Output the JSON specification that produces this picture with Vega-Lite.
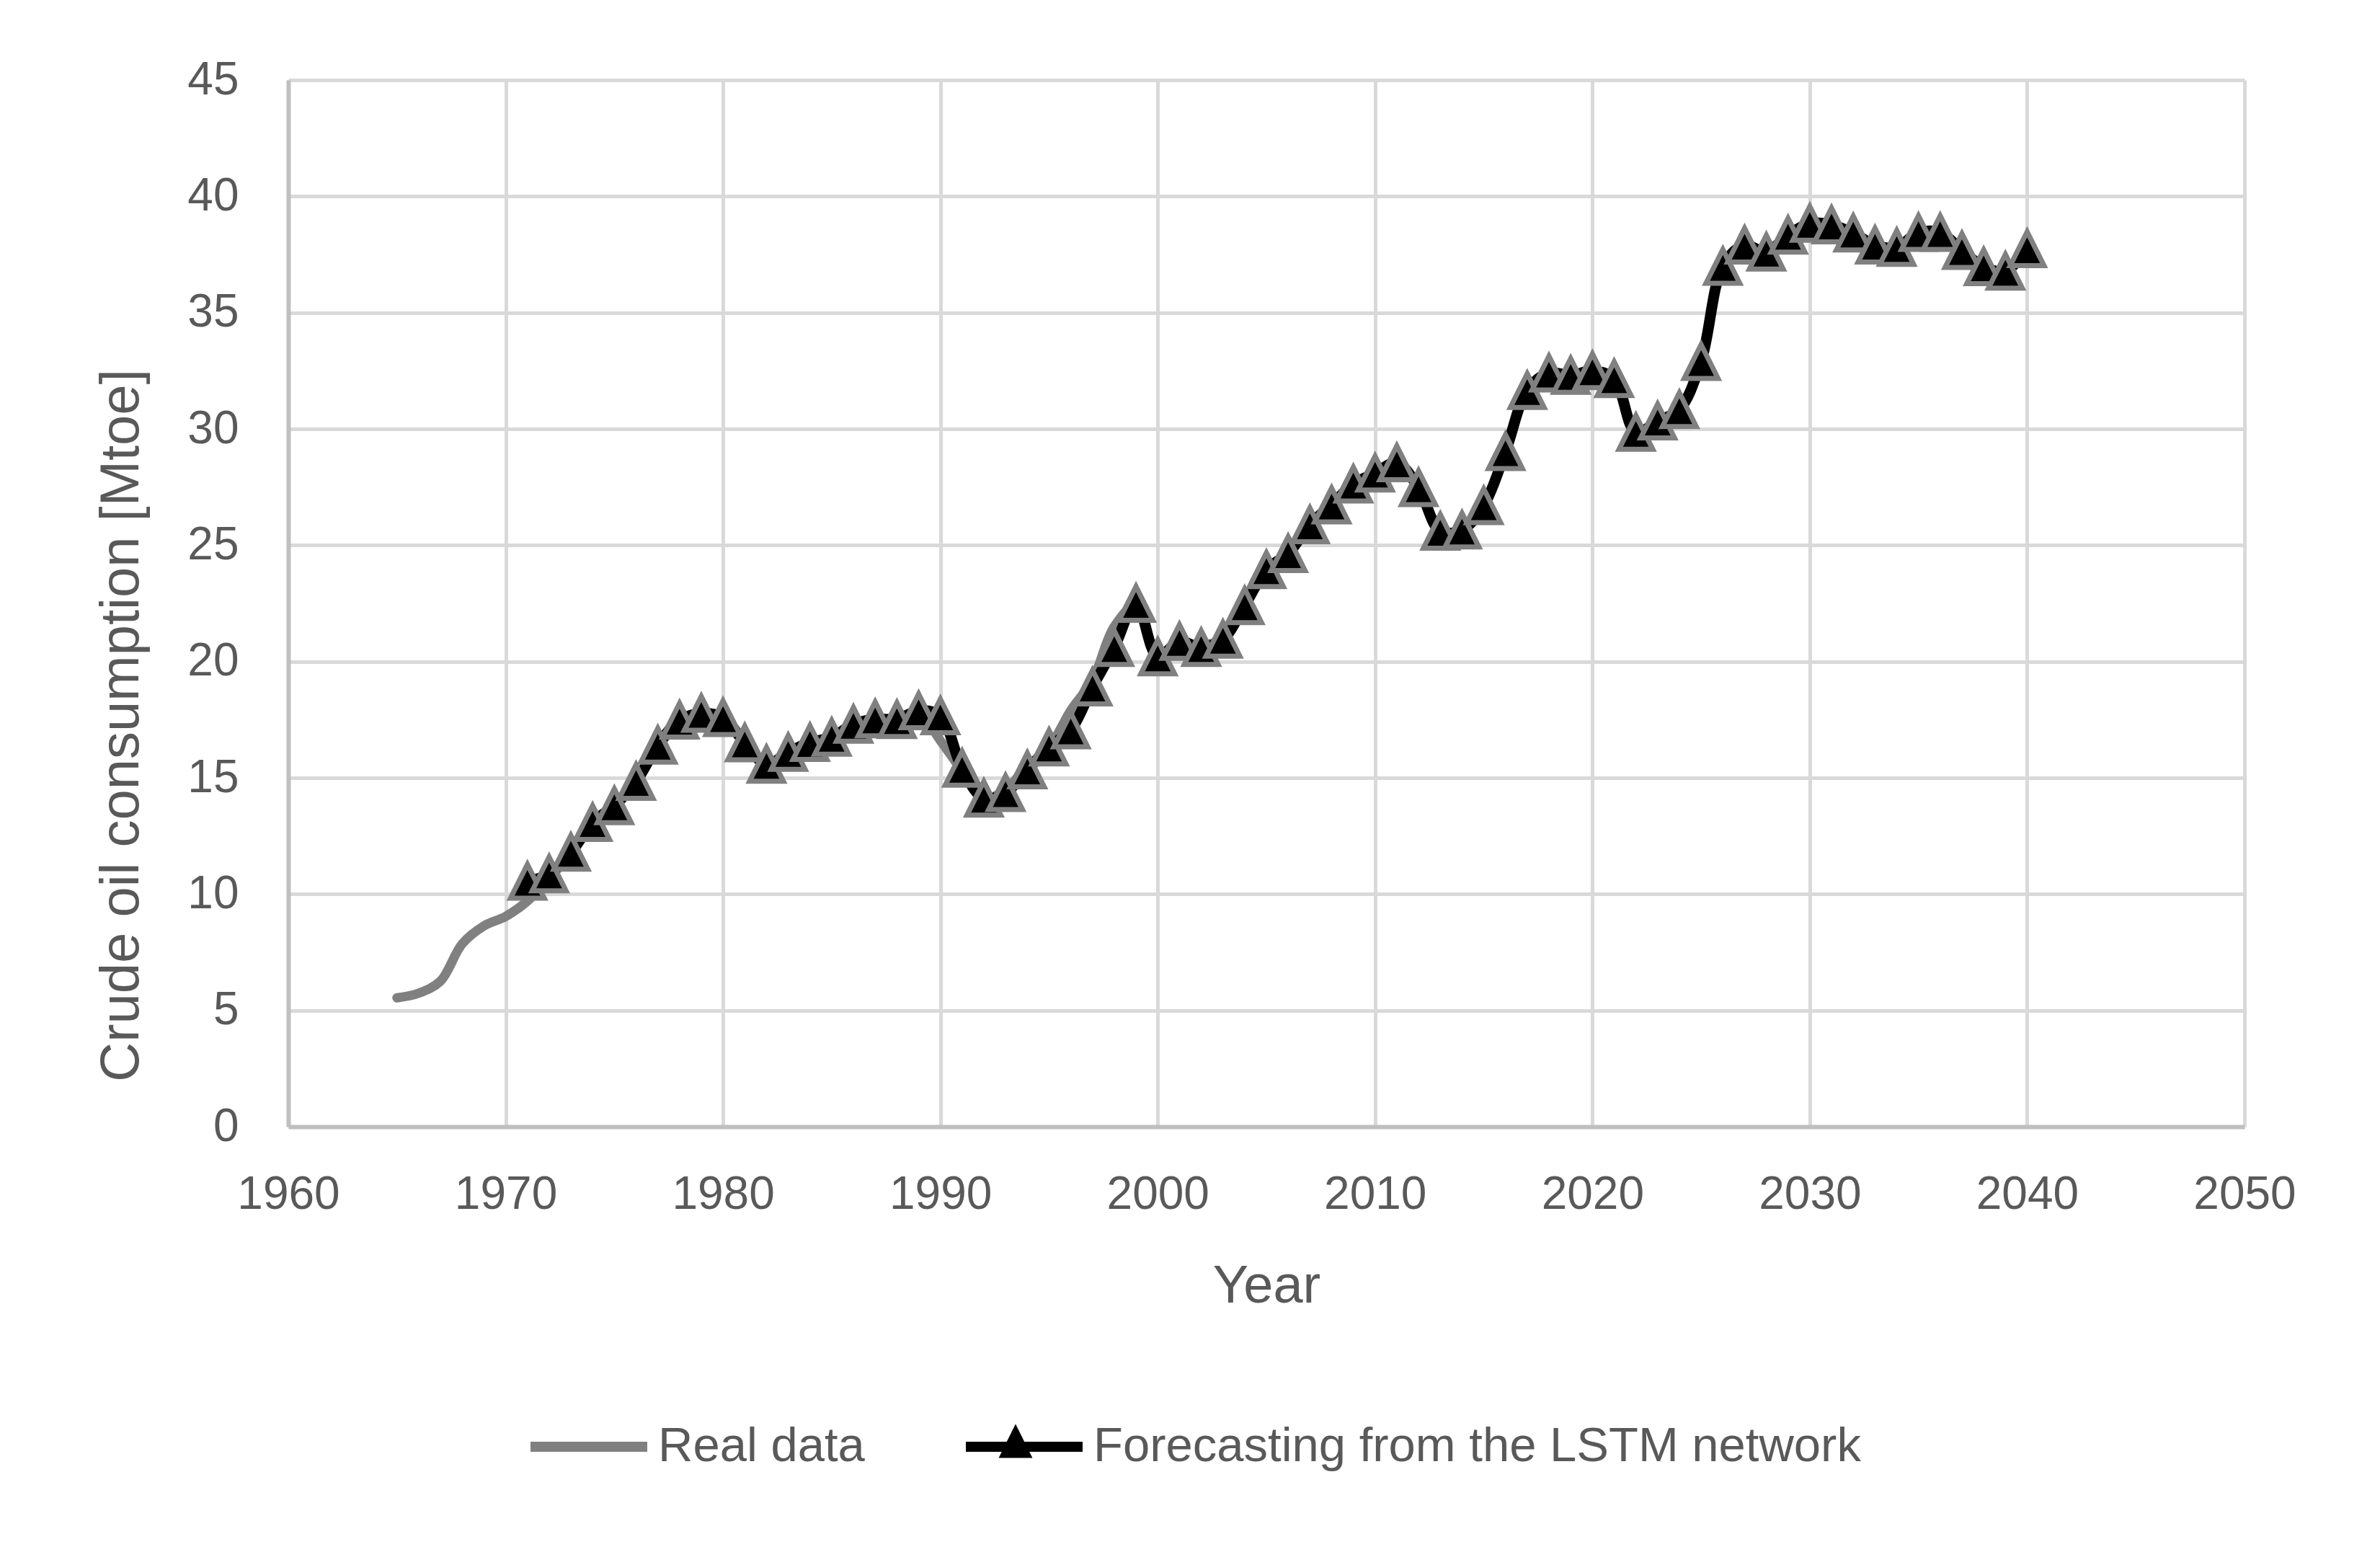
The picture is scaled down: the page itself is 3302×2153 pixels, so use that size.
{
  "$schema": "https://vega.github.io/schema/vega-lite/v6.json",
  "autosize": {"type": "none"},
  "width": 2714,
  "height": 1452,
  "padding": {"left": 400, "top": 111, "right": 188, "bottom": 590},
  "background": "#ffffff",
  "config": {
    "view": {"stroke": null},
    "font": "Liberation Sans",
    "axis": {
      "labelFont": "Liberation Sans",
      "titleFont": "Liberation Sans",
      "labelColor": "#595959",
      "titleColor": "#595959",
      "titleFontWeight": "normal",
      "gridColor": "#d9d9d9",
      "gridWidth": 5,
      "domainColor": "#bfbfbf",
      "domainWidth": 6,
      "ticks": false,
      "tickSize": 0,
      "labelFlush": false,
      "labelOverlap": false
    }
  },
  "data": {
    "values": [
      {"year": 1965, "value": 5.54, "series": "Real data"},
      {"year": 1966, "value": 5.74, "series": "Real data"},
      {"year": 1967, "value": 6.26, "series": "Real data"},
      {"year": 1968, "value": 7.86, "series": "Real data"},
      {"year": 1969, "value": 8.63, "series": "Real data"},
      {"year": 1970, "value": 9.04, "series": "Real data"},
      {"year": 1971, "value": 9.7, "series": "Real data"},
      {"year": 1972, "value": 10.7, "series": "Real data"},
      {"year": 1973, "value": 11.7, "series": "Real data"},
      {"year": 1974, "value": 13.0, "series": "Real data"},
      {"year": 1975, "value": 13.8, "series": "Real data"},
      {"year": 1976, "value": 14.8, "series": "Real data"},
      {"year": 1977, "value": 16.3, "series": "Real data"},
      {"year": 1978, "value": 17.4, "series": "Real data"},
      {"year": 1979, "value": 17.7, "series": "Real data"},
      {"year": 1980, "value": 17.5, "series": "Real data"},
      {"year": 1981, "value": 16.5, "series": "Real data"},
      {"year": 1982, "value": 15.6, "series": "Real data"},
      {"year": 1983, "value": 16.1, "series": "Real data"},
      {"year": 1984, "value": 16.5, "series": "Real data"},
      {"year": 1985, "value": 16.8, "series": "Real data"},
      {"year": 1986, "value": 17.3, "series": "Real data"},
      {"year": 1987, "value": 17.5, "series": "Real data"},
      {"year": 1988, "value": 17.6, "series": "Real data"},
      {"year": 1989, "value": 17.8, "series": "Real data"},
      {"year": 1990, "value": 16.6, "series": "Real data"},
      {"year": 1991, "value": 15.3, "series": "Real data"},
      {"year": 1992, "value": 14.1, "series": "Real data"},
      {"year": 1993, "value": 14.5, "series": "Real data"},
      {"year": 1994, "value": 15.5, "series": "Real data"},
      {"year": 1995, "value": 16.3, "series": "Real data"},
      {"year": 1996, "value": 17.9, "series": "Real data"},
      {"year": 1997, "value": 19.2, "series": "Real data"},
      {"year": 1998, "value": 21.5, "series": "Real data"},
      {"year": 1999, "value": 22.4, "series": "Real data"},
      {"year": 2000, "value": 20.3, "series": "Real data"},
      {"year": 2001, "value": 20.8, "series": "Real data"},
      {"year": 2002, "value": 20.7, "series": "Real data"},
      {"year": 2003, "value": 21.0, "series": "Real data"},
      {"year": 2004, "value": 22.5, "series": "Real data"},
      {"year": 2005, "value": 23.8, "series": "Real data"},
      {"year": 2006, "value": 24.8, "series": "Real data"},
      {"year": 2007, "value": 25.9, "series": "Real data"},
      {"year": 2008, "value": 26.8, "series": "Real data"},
      {"year": 2009, "value": 27.6, "series": "Real data"},
      {"year": 2010, "value": 28.1, "series": "Real data"},
      {"year": 2011, "value": 28.5, "series": "Real data"},
      {"year": 2012, "value": 27.4, "series": "Real data"},
      {"year": 2013, "value": 25.6, "series": "Real data"},
      {"year": 2014, "value": 25.7, "series": "Real data"},
      {"year": 2015, "value": 26.7, "series": "Real data"},
      {"year": 2016, "value": 29.0, "series": "Real data"},
      {"year": 2017, "value": 31.6, "series": "Real data"},
      {"year": 2018, "value": 32.4, "series": "Real data"},
      {"year": 2019, "value": 32.3, "series": "Real data"},
      {"year": 1971, "value": 10.55, "series": "Forecasting from the LSTM network"},
      {"year": 1972, "value": 10.87, "series": "Forecasting from the LSTM network"},
      {"year": 1973, "value": 11.8, "series": "Forecasting from the LSTM network"},
      {"year": 1974, "value": 13.08, "series": "Forecasting from the LSTM network"},
      {"year": 1975, "value": 13.8, "series": "Forecasting from the LSTM network"},
      {"year": 1976, "value": 14.84, "series": "Forecasting from the LSTM network"},
      {"year": 1977, "value": 16.4, "series": "Forecasting from the LSTM network"},
      {"year": 1978, "value": 17.48, "series": "Forecasting from the LSTM network"},
      {"year": 1979, "value": 17.77, "series": "Forecasting from the LSTM network"},
      {"year": 1980, "value": 17.59, "series": "Forecasting from the LSTM network"},
      {"year": 1981, "value": 16.5, "series": "Forecasting from the LSTM network"},
      {"year": 1982, "value": 15.58, "series": "Forecasting from the LSTM network"},
      {"year": 1983, "value": 16.09, "series": "Forecasting from the LSTM network"},
      {"year": 1984, "value": 16.52, "series": "Forecasting from the LSTM network"},
      {"year": 1985, "value": 16.74, "series": "Forecasting from the LSTM network"},
      {"year": 1986, "value": 17.3, "series": "Forecasting from the LSTM network"},
      {"year": 1987, "value": 17.53, "series": "Forecasting from the LSTM network"},
      {"year": 1988, "value": 17.5, "series": "Forecasting from the LSTM network"},
      {"year": 1989, "value": 17.88, "series": "Forecasting from the LSTM network"},
      {"year": 1990, "value": 17.66, "series": "Forecasting from the LSTM network"},
      {"year": 1991, "value": 15.41, "series": "Forecasting from the LSTM network"},
      {"year": 1992, "value": 14.12, "series": "Forecasting from the LSTM network"},
      {"year": 1993, "value": 14.36, "series": "Forecasting from the LSTM network"},
      {"year": 1994, "value": 15.34, "series": "Forecasting from the LSTM network"},
      {"year": 1995, "value": 16.32, "series": "Forecasting from the LSTM network"},
      {"year": 1996, "value": 17.06, "series": "Forecasting from the LSTM network"},
      {"year": 1997, "value": 18.9, "series": "Forecasting from the LSTM network"},
      {"year": 1998, "value": 20.6, "series": "Forecasting from the LSTM network"},
      {"year": 1999, "value": 22.5, "series": "Forecasting from the LSTM network"},
      {"year": 2000, "value": 20.2, "series": "Forecasting from the LSTM network"},
      {"year": 2001, "value": 20.86, "series": "Forecasting from the LSTM network"},
      {"year": 2002, "value": 20.6, "series": "Forecasting from the LSTM network"},
      {"year": 2003, "value": 20.96, "series": "Forecasting from the LSTM network"},
      {"year": 2004, "value": 22.4, "series": "Forecasting from the LSTM network"},
      {"year": 2005, "value": 23.95, "series": "Forecasting from the LSTM network"},
      {"year": 2006, "value": 24.64, "series": "Forecasting from the LSTM network"},
      {"year": 2007, "value": 25.88, "series": "Forecasting from the LSTM network"},
      {"year": 2008, "value": 26.73, "series": "Forecasting from the LSTM network"},
      {"year": 2009, "value": 27.63, "series": "Forecasting from the LSTM network"},
      {"year": 2010, "value": 28.1, "series": "Forecasting from the LSTM network"},
      {"year": 2011, "value": 28.54, "series": "Forecasting from the LSTM network"},
      {"year": 2012, "value": 27.47, "series": "Forecasting from the LSTM network"},
      {"year": 2013, "value": 25.6, "series": "Forecasting from the LSTM network"},
      {"year": 2014, "value": 25.65, "series": "Forecasting from the LSTM network"},
      {"year": 2015, "value": 26.7, "series": "Forecasting from the LSTM network"},
      {"year": 2016, "value": 29.02, "series": "Forecasting from the LSTM network"},
      {"year": 2017, "value": 31.65, "series": "Forecasting from the LSTM network"},
      {"year": 2018, "value": 32.4, "series": "Forecasting from the LSTM network"},
      {"year": 2019, "value": 32.3, "series": "Forecasting from the LSTM network"},
      {"year": 2020, "value": 32.5, "series": "Forecasting from the LSTM network"},
      {"year": 2021, "value": 32.16, "series": "Forecasting from the LSTM network"},
      {"year": 2022, "value": 29.85, "series": "Forecasting from the LSTM network"},
      {"year": 2023, "value": 30.34, "series": "Forecasting from the LSTM network"},
      {"year": 2024, "value": 30.83, "series": "Forecasting from the LSTM network"},
      {"year": 2025, "value": 32.9, "series": "Forecasting from the LSTM network"},
      {"year": 2026, "value": 36.99, "series": "Forecasting from the LSTM network"},
      {"year": 2027, "value": 37.9, "series": "Forecasting from the LSTM network"},
      {"year": 2028, "value": 37.6, "series": "Forecasting from the LSTM network"},
      {"year": 2029, "value": 38.33, "series": "Forecasting from the LSTM network"},
      {"year": 2030, "value": 38.84, "series": "Forecasting from the LSTM network"},
      {"year": 2031, "value": 38.77, "series": "Forecasting from the LSTM network"},
      {"year": 2032, "value": 38.42, "series": "Forecasting from the LSTM network"},
      {"year": 2033, "value": 37.9, "series": "Forecasting from the LSTM network"},
      {"year": 2034, "value": 37.8, "series": "Forecasting from the LSTM network"},
      {"year": 2035, "value": 38.44, "series": "Forecasting from the LSTM network"},
      {"year": 2036, "value": 38.44, "series": "Forecasting from the LSTM network"},
      {"year": 2037, "value": 37.67, "series": "Forecasting from the LSTM network"},
      {"year": 2038, "value": 36.97, "series": "Forecasting from the LSTM network"},
      {"year": 2039, "value": 36.78, "series": "Forecasting from the LSTM network"},
      {"year": 2040, "value": 37.75, "series": "Forecasting from the LSTM network"}
    ]
  },
  "encoding": {
    "x": {
      "field": "year",
      "type": "quantitative",
      "scale": {"domain": [1960, 2050], "nice": false, "zero": false},
      "axis": {
        "title": "Year",
        "values": [1960, 1970, 1980, 1990, 2000, 2010, 2020, 2030, 2040, 2050],
        "format": "d",
        "labelFontSize": 64,
        "labelPadding": 94,
        "labelBaseline": "middle",
        "titleFontSize": 74,
        "titleY": 221,
        "titleBaseline": "middle",
        "grid": true
      }
    },
    "y": {
      "field": "value",
      "type": "quantitative",
      "scale": {"domain": [0, 45], "nice": false},
      "axis": {
        "title": "Crude oil consumption [Mtoe]",
        "values": [0, 5, 10, 15, 20, 25, 30, 35, 40, 45],
        "labelFontSize": 64,
        "labelPadding": 69,
        "titleFontSize": 76,
        "titleAngle": -90,
        "titleX": -232,
        "titleY": 895,
        "titleAlign": "center",
        "titleBaseline": "middle",
        "grid": true
      }
    }
  },
  "layer": [
    {
      "transform": [{"filter": "datum.series === 'Real data'"}],
      "mark": {"type": "line", "strokeWidth": 13, "interpolate": "catmull-rom", "strokeCap": "round", "strokeJoin": "round"},
      "encoding": {
        "color": {
          "field": "series",
          "type": "nominal",
          "scale": {"domain": ["Real data", "Forecasting from the LSTM network"], "range": ["#808080", "#000000"]},
          "legend": {
            "title": null,
            "orient": "none",
            "legendX": 329,
            "legendY": 1808,
            "direction": "horizontal",
            "symbolType": "stroke",
            "symbolSize": 26244,
            "symbolStrokeWidth": 14,
            "labelFont": "Liberation Sans",
            "labelFontSize": 67,
            "labelColor": "#595959",
            "labelOffset": 8,
            "columnPadding": 112,
            "padding": 0,
            "labelLimit": 2000
          }
        }
      }
    },
    {
      "transform": [{"filter": "datum.series !== 'Real data'"}],
      "mark": {"type": "line", "strokeWidth": 15, "interpolate": "catmull-rom", "strokeCap": "round", "strokeJoin": "round"},
      "encoding": {
        "color": {"field": "series", "type": "nominal"}
      }
    },
    {
      "transform": [{"filter": "datum.series !== 'Real data'"}],
      "mark": {"type": "point", "filled": true, "size": 2200, "fill": "#000000", "stroke": "#808080", "strokeWidth": 7, "opacity": 1, "fillOpacity": 1, "strokeOpacity": 1},
      "encoding": {
        "shape": {
          "field": "series",
          "type": "nominal",
          "scale": {"range": ["M0,-1L1,1L-1,1Z"]},
          "legend": {
            "title": null,
            "orient": "none",
            "legendX": 982,
            "legendY": 1861,
            "symbolSize": 2200,
            "symbolFillColor": "#000000",
            "symbolStrokeColor": "#808080",
            "symbolStrokeWidth": 7,
            "symbolOpacity": 1,
            "labelExpr": "''",
            "padding": 0
          }
        }
      }
    }
  ]
}
